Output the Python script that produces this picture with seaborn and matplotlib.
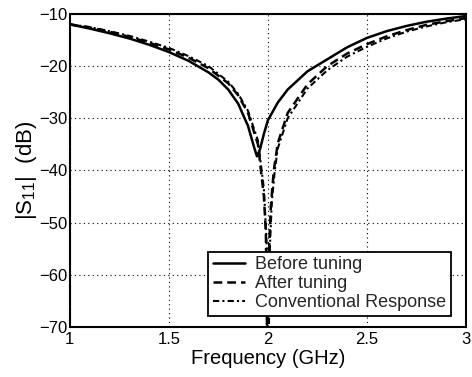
import matplotlib
matplotlib.use("Agg")
import matplotlib.pyplot as plt
import seaborn as sns
import pandas as pd

f_before = [1.0, 1.1, 1.2, 1.3, 1.4, 1.5, 1.6, 1.7, 1.75, 1.8, 1.85, 1.9, 1.93, 1.945,
            1.96, 1.98, 2.0, 2.05, 2.1, 2.2, 2.3, 2.4, 2.5, 2.6, 2.7, 2.8, 2.9, 3.0]
s_before = [-12.0, -12.8, -13.7, -14.7, -15.9, -17.3, -19.0, -21.2, -22.6, -24.5, -27.2, -31.5, -35.5, -37.3,
            -36.0, -33.0, -30.4, -27.0, -24.5, -21.0, -18.7, -16.4, -14.6, -13.3, -12.3, -11.5, -10.9, -10.4]

f_after = [1.0, 1.1, 1.2, 1.3, 1.4, 1.5, 1.6, 1.7, 1.8, 1.85, 1.9, 1.95, 1.98, 1.99, 1.997,
           2.005, 2.015, 2.03, 2.05, 2.1, 2.2, 2.3, 2.4, 2.5, 2.6, 2.7, 2.8, 2.9, 3.0]
s_after = [-12.0, -12.6, -13.4, -14.4, -15.5, -16.8, -18.4, -20.4, -23.3, -25.6, -29.0, -35.0, -45.0, -52.0, -75.0,
           -56.0, -47.0, -40.0, -34.8, -29.0, -23.5, -20.0, -17.6, -15.8, -14.3, -13.1, -12.1, -11.4, -10.8]

f_conv = [1.0, 1.1, 1.2, 1.3, 1.4, 1.5, 1.6, 1.7, 1.8, 1.85, 1.9, 1.95, 1.98, 1.995, 2.003,
          2.01, 2.02, 2.035, 2.05, 2.1, 2.2, 2.3, 2.4, 2.5, 2.6, 2.7, 2.8, 2.9, 3.0]
s_conv = [-12.0, -12.5, -13.3, -14.2, -15.3, -16.5, -18.1, -20.0, -23.0, -25.3, -28.6, -34.3, -43.5, -55.0, -78.0,
          -55.0, -46.0, -40.0, -35.8, -30.0, -24.3, -20.8, -18.2, -16.3, -14.7, -13.4, -12.4, -11.6, -11.0]

labels = ["Before tuning", "After tuning", "Conventional Response"]

sns.set_theme(style="white")
plt.rcParams['font.family'] = ['Liberation Sans', 'DejaVu Sans']
plt.rcParams['mathtext.fontset'] = 'custom'
plt.rcParams['mathtext.rm'] = 'Liberation Sans'
plt.rcParams['mathtext.it'] = 'Liberation Sans'

fig = plt.figure(figsize=(4.72, 3.77), dpi=100)
ax = fig.add_axes([0.148, 0.133, 0.839, 0.830])

df1 = pd.DataFrame({"f": f_before, "s": s_before})
df2 = pd.DataFrame({"f": f_after, "s": s_after})
df3 = pd.DataFrame({"f": f_conv, "s": s_conv})

sns.lineplot(data=df1, x="f", y="s", ax=ax, color="black", lw=1.8, label=labels[0], sort=False)
sns.lineplot(data=df2, x="f", y="s", ax=ax, color="black", lw=1.8, linestyle=(0, (3.5, 2.0)), label=labels[1], sort=False)
sns.lineplot(data=df3, x="f", y="s", ax=ax, color="black", lw=1.5, linestyle=(0, (3, 1.5, 1, 1.5)), label=labels[2], sort=False)

ax.set_xlim(1, 3)
ax.set_ylim(-70, -10)
ax.set_xticks([1, 1.5, 2, 2.5, 3])
ax.set_xticklabels(["1", "1.5", "2", "2.5", "3"])
ax.set_yticks(range(-70, -9, 10))
ax.set_yticklabels(["\u221270", "\u221260", "\u221250", "\u221240", "\u221230", "\u221220", "\u221210"])
ax.grid(True, color="black", linestyle=(0, (1, 3)), linewidth=0.8)
ax.tick_params(direction="in", length=4, width=1.2, labelsize=12, colors="black", pad=2)
ax.tick_params(axis='x', pad=4)
for sp in ax.spines.values():
    sp.set_visible(True)
    sp.set_color("black")
    sp.set_linewidth(1.5)
ax.set_xlabel("Frequency (GHz)", fontsize=14.5, color="black", labelpad=1)
ax.set_ylabel(r"|S$_{11}$|  (dB)", fontsize=16, color="black", labelpad=0)

leg = ax.legend(loc="lower right", bbox_to_anchor=(0.962, 0.035), borderaxespad=0,
                fontsize=13, frameon=True, fancybox=False,
                edgecolor="black", framealpha=1, handlelength=1.8, handletextpad=0.55,
                borderpad=0.25, labelspacing=0.12)
leg.get_frame().set_linewidth(1.3)

fig.savefig("out.png", dpi=100)
